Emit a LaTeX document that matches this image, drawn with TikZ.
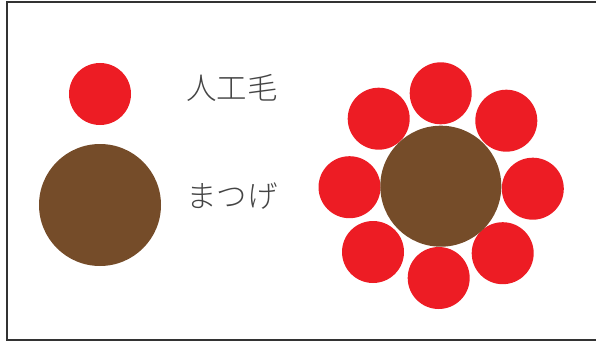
\documentclass[tikz,border=0pt]{standalone}
\usepackage{fontspec}
\newfontfamily\cjk[UprightFont=* Light]{Noto Sans CJK JP}
\definecolor{lashred}{HTML}{ED1C24}
\definecolor{lashbrown}{HTML}{754C29}
\definecolor{frame}{HTML}{333333}
\definecolor{txt}{HTML}{444444}
\begin{document}
\begin{tikzpicture}[x=1pt,y=-1pt,
  fiber/.style={circle,fill=lashred,inner sep=0pt,minimum size=62pt},
  lash/.style={circle,fill=lashbrown,inner sep=0pt,minimum size=#1},
  lbl/.style={font=\cjk\fontsize{30.5}{33}\selectfont, text=txt, anchor=west, inner sep=0pt}]
\useasboundingbox (0,0) rectangle (596,342);
\draw[frame,line width=2pt] (7,2) rectangle (604,340);
% legend
\node[fiber] (f0) at (100,94) {};
\node[lash=122pt] (b0) at (100,205) {};
\node[lbl] (t1) at (186,88) {人工毛};
\node[lbl] (t2) at (186,196) {まつげ};
% cluster
\node[fiber] (c1) at (440.7,93.3) {};
\node[fiber] (c2) at (378.7,118.7) {};
\node[fiber] (c3) at (506.3,120.7) {};
\node[fiber] (c4) at (349.5,187.2) {};
\node[fiber] (c5) at (532.8,188.7) {};
\node[fiber] (c6) at (373,252) {};
\node[fiber] (c7) at (438.7,278) {};
\node[fiber] (c8) at (502.7,253.2) {};
\node[lash=121pt] (bc) at (440.8,186.2) {};
\end{tikzpicture}
\end{document}
